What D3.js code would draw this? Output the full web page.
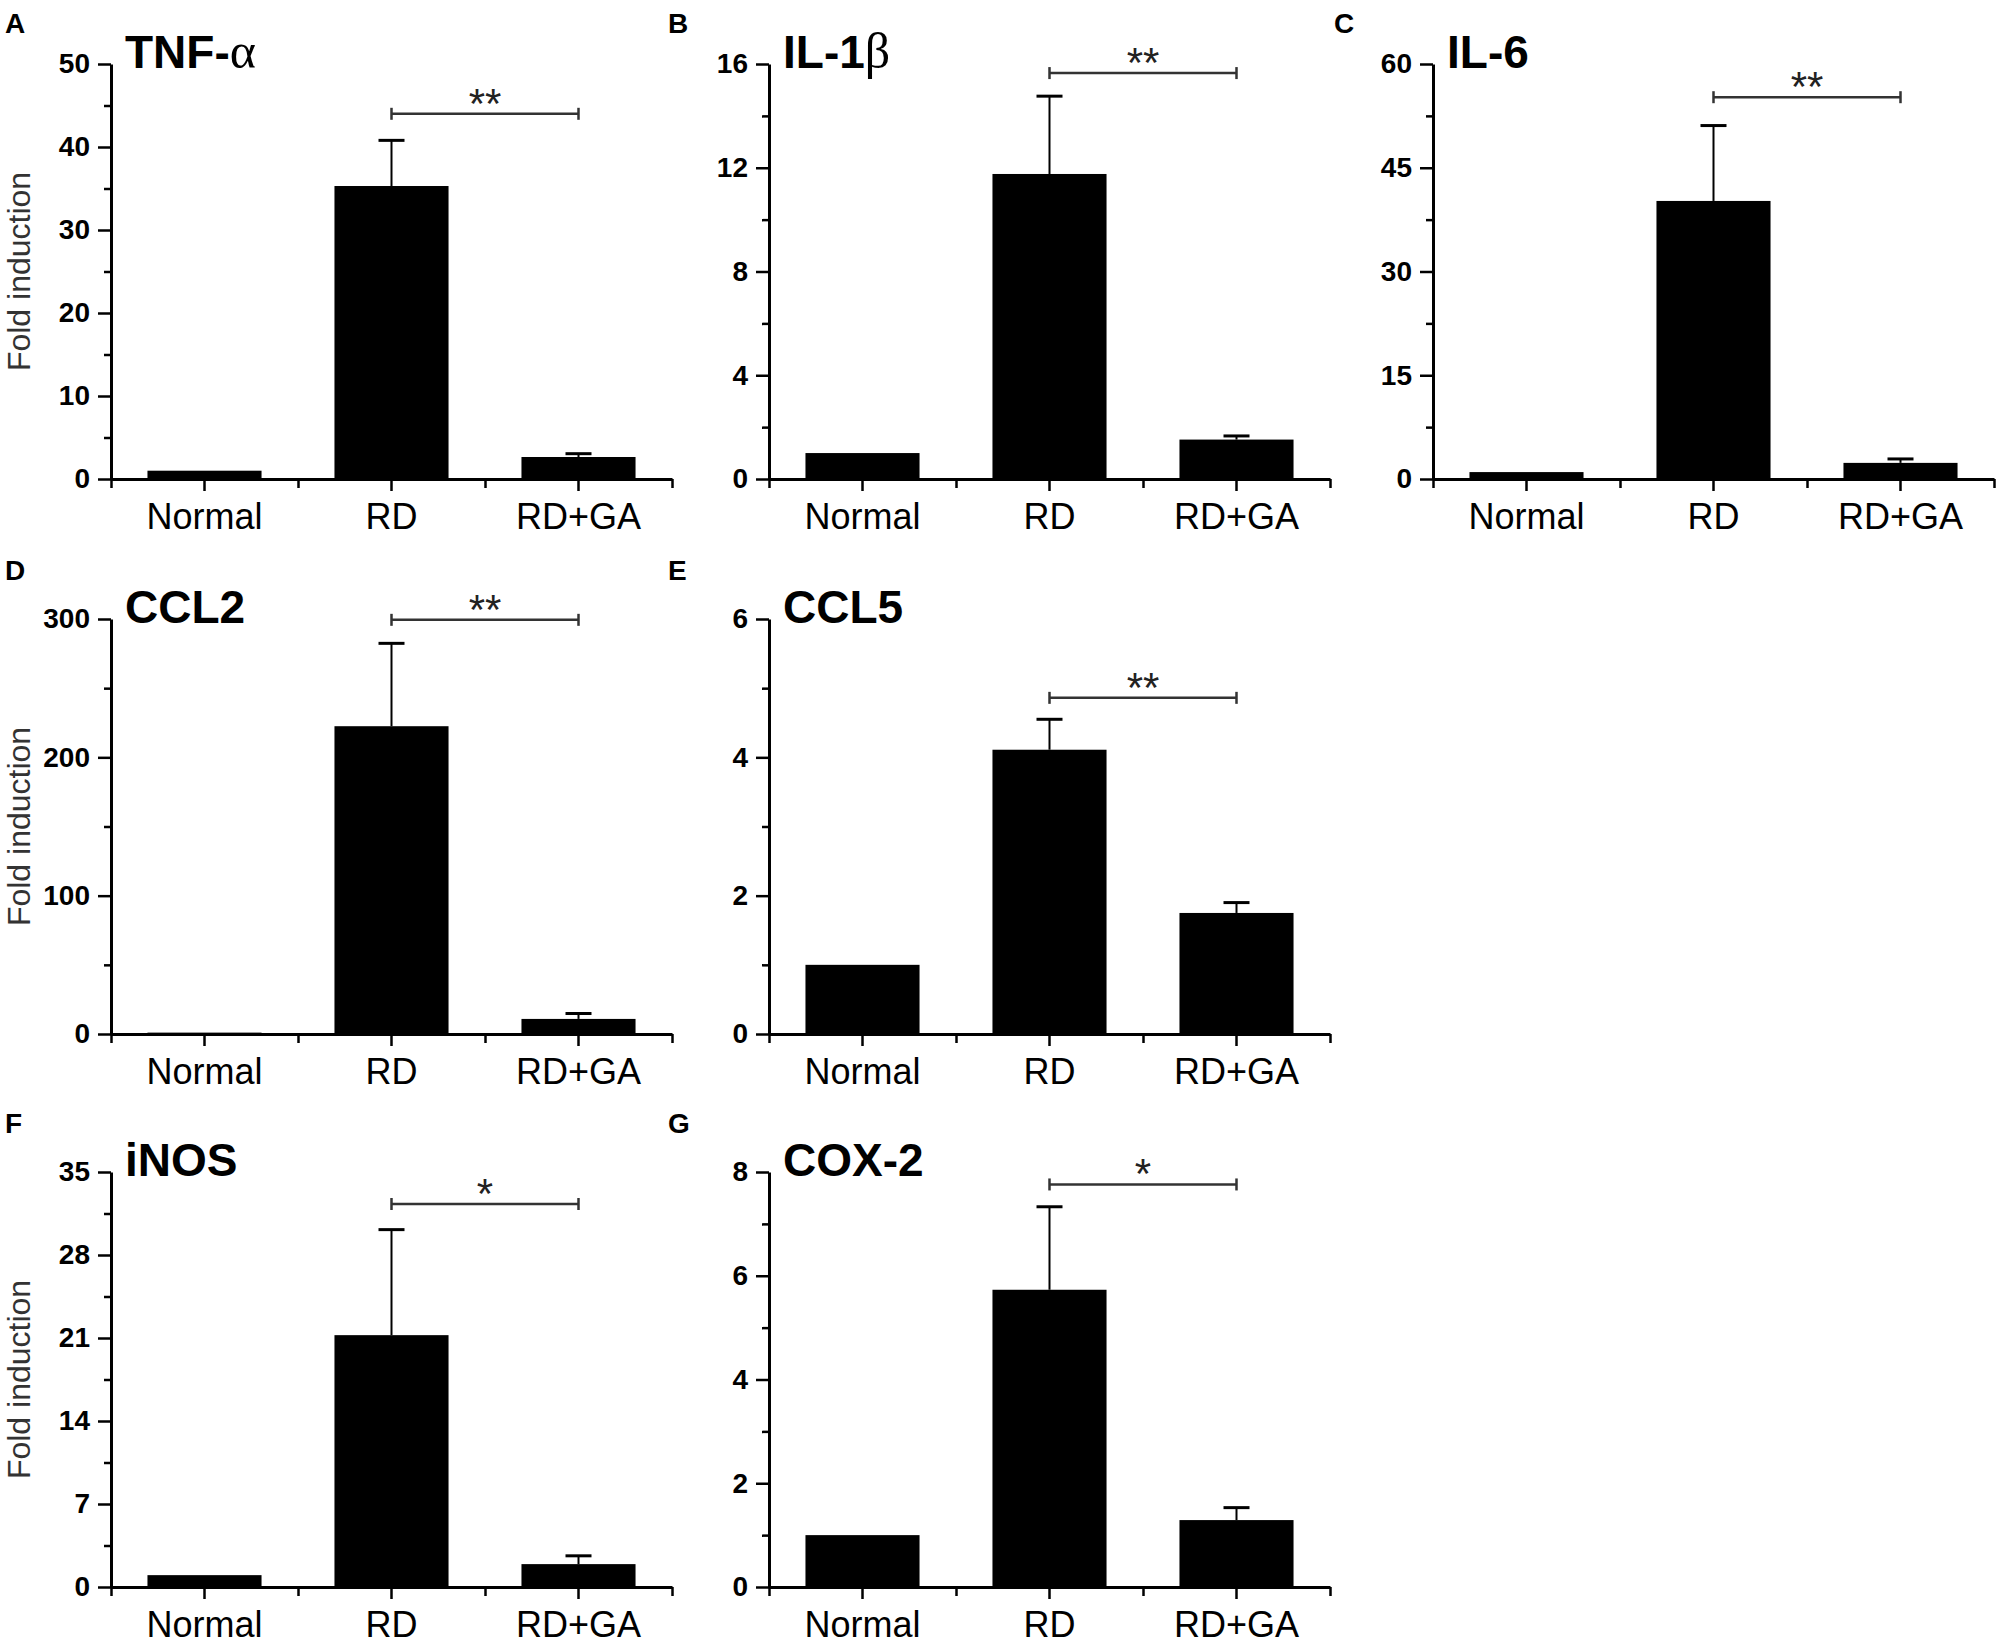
<!DOCTYPE html>
<html>
<head>
<meta charset="utf-8">
<script src="https://cdn.jsdelivr.net/npm/d3@7"></script>
<style>
  body { margin: 0; background: #fff; }
  svg { display: block; font-family: "Liberation Sans", Arial, sans-serif; }
</style>
</head>
<body>
<div id="chart"></div>
<script>
// groups on the x axis, same for every panel
const groups = ["Normal", "RD", "RD+GA"];

// one entry per panel, A..G
const letters = ["A", "B", "C", "D", "E", "F", "G"];
const titles = ["TNF-", "IL-1", "IL-6", "CCL2", "CCL5", "iNOS", "COX-2"];
const titleGreek = ["\u03B1", "\u03B2", "", "", "", "", ""];
const yMax = [50, 16, 60, 300, 6, 35, 8];
const yStep = [10, 4, 15, 100, 2, 7, 2];

// fold induction (mean) and the upper error (SEM) for Normal, RD, RD+GA
const means = [
  [1.0, 35.3, 2.65],
  [1.0, 11.76, 1.52],
  [1.0, 40.2, 2.33],
  [1.0, 222.5, 10.9],
  [1.0, 4.11, 1.75],
  [1.0, 21.24, 1.93],
  [1.0, 5.73, 1.29]
];
const errors = [
  [0, 5.5, 0.4],
  [0, 3.0, 0.14],
  [0, 10.9, 0.57],
  [0, 59.9, 3.9],
  [0, 0.44, 0.15],
  [0, 8.9, 0.7],
  [0, 1.6, 0.24]
];

// significance bracket RD vs RD+GA
const bracketAt = [44, 15.65, 55.2, 299.4, 4.86, 32.3, 7.76];
const stars = ["**", "**", "**", "**", "**", "*", "*"];

const W = 2000, H = 1644;
const svg = d3.select("#chart").append("svg")
    .attr("width", W)
    .attr("height", H);

// panel grid: column x of the y axis, row y of the top tick
const colX = [111, 769, 1433];
const rowY = [64, 619, 1172];
const letterY = [33, 580, 1133];
const letterX = [5, 668, 1334];
const plotW = 561, plotH = 415;

letters.forEach(function(letter, i) {
    const col = i < 3 ? i : (i - 3) % 2;
    const row = i < 3 ? 0 : (i < 5 ? 1 : 2);
    const x0 = colX[col], y0 = rowY[row];

    // panel letter
    svg.append("text")
        .attr("x", letterX[col])
        .attr("y", letterY[row])
        .attr("font-size", 28)
        .attr("font-weight", "bold")
        .text(letter);

    const g = svg.append("g").attr("transform", "translate(" + x0 + "," + y0 + ")");

    const x = d3.scaleBand()
        .domain(groups)
        .range([0, plotW])
        .paddingInner(0.39)
        .paddingOuter(0.195);

    const y = d3.scaleLinear()
        .domain([0, yMax[i]])
        .range([plotH, 0]);

    const majors = d3.range(0, yMax[i] + yStep[i] / 2, yStep[i]);
    const minors = d3.range(yStep[i] / 2, yMax[i], yStep[i]);

    // bars
    const rows = groups.map(function(name, j) {
        return { name: name, mean: means[i][j], err: errors[i][j] };
    });

    g.selectAll("rect.bar")
        .data(rows)
        .enter()
        .append("rect")
            .attr("class", "bar")
            .attr("x", function(d) { return x(d.name); })
            .attr("y", function(d) { return y(d.mean); })
            .attr("width", x.bandwidth())
            .attr("height", function(d) { return plotH - y(d.mean); })
            .attr("fill", "#000");

    // upper error bars
    const withErr = rows.filter(function(d) { return d.err > 0; });
    g.selectAll("line.stem")
        .data(withErr)
        .enter()
        .append("line")
            .attr("x1", function(d) { return x(d.name) + x.bandwidth() / 2; })
            .attr("x2", function(d) { return x(d.name) + x.bandwidth() / 2; })
            .attr("y1", function(d) { return y(d.mean); })
            .attr("y2", function(d) { return y(d.mean + d.err); })
            .attr("stroke", "#000")
            .attr("stroke-width", 2);
    g.selectAll("line.cap")
        .data(withErr)
        .enter()
        .append("line")
            .attr("x1", function(d) { return x(d.name) + x.bandwidth() / 2 - 13; })
            .attr("x2", function(d) { return x(d.name) + x.bandwidth() / 2 + 13; })
            .attr("y1", function(d) { return y(d.mean + d.err); })
            .attr("y2", function(d) { return y(d.mean + d.err); })
            .attr("stroke", "#000")
            .attr("stroke-width", 3);

    // y axis: labelled majors + short minors
    const yAxis = g.append("g")
        .call(d3.axisLeft(y).tickValues(majors).tickFormat(d3.format("~g"))
            .tickSize(13).tickSizeOuter(0).tickPadding(8));
    yAxis.select(".domain").attr("stroke-width", 3);
    yAxis.selectAll(".tick line").attr("stroke-width", 2.5);
    yAxis.selectAll(".tick text")
        .attr("font-family", "'Liberation Sans', Arial, sans-serif")
        .attr("font-size", 28)
        .attr("font-weight", "bold")
        .attr("fill", "#000");
    g.append("g")
        .call(d3.axisLeft(y).tickValues(minors).tickSize(7).tickFormat(""))
        .call(function(a) { a.select(".domain").remove(); })
        .selectAll(".tick line").attr("stroke-width", 2.5);

    // x axis: ticks under each group + shorter ticks at group edges
    const xAxis = g.append("g")
        .attr("transform", "translate(0," + plotH + ")")
        .call(d3.axisBottom(x).tickSize(12).tickSizeOuter(0).tickPadding(12));
    xAxis.select(".domain").attr("stroke-width", 3);
    xAxis.selectAll(".tick line").attr("stroke-width", 2.5);
    xAxis.selectAll(".tick text")
        .attr("font-family", "'Liberation Sans', Arial, sans-serif")
        .attr("font-size", 36)
        .attr("fill", "#000");

    const edge = d3.scaleLinear().domain([0, groups.length]).range([0, plotW]);
    g.append("g")
        .attr("transform", "translate(0," + plotH + ")")
        .call(d3.axisBottom(edge).tickValues(d3.range(0, groups.length + 1)).tickSize(9).tickFormat(""))
        .call(function(a) { a.select(".domain").remove(); })
        .selectAll(".tick line").attr("stroke-width", 2.5);

    // title
    const t = g.append("text")
        .attr("x", 14)
        .attr("y", 4)
        .attr("font-size", 46)
        .attr("font-weight", "bold")
        .text(titles[i]);
    if (titleGreek[i]) {
        t.append("tspan")
            .attr("font-family", "'Liberation Serif', 'DejaVu Serif', serif")
            .attr("font-weight", "normal")
            .attr("font-size", 50)
            .text(titleGreek[i]);
    }

    // significance bracket between RD and RD+GA
    const bx1 = x("RD") + x.bandwidth() / 2;
    const bx2 = x("RD+GA") + x.bandwidth() / 2;
    const by = y(bracketAt[i]);
    const br = g.append("g").attr("stroke", "#333").attr("stroke-width", 2.5);
    br.append("line").attr("x1", bx1).attr("x2", bx2).attr("y1", by).attr("y2", by);
    br.append("line").attr("x1", bx1).attr("x2", bx1).attr("y1", by - 6).attr("y2", by + 6);
    br.append("line").attr("x1", bx2).attr("x2", bx2).attr("y1", by - 6).attr("y2", by + 6);
    g.append("text")
        .attr("x", (bx1 + bx2) / 2)
        .attr("y", by + 4)
        .attr("text-anchor", "middle")
        .attr("font-size", 42)
        .attr("fill", "#222")
        .text(stars[i]);

    // y label only on the left column
    if (col === 0) {
        svg.append("text")
            .attr("transform", "translate(30," + (y0 + plotH / 2) + ") rotate(-90)")
            .attr("text-anchor", "middle")
            .attr("font-size", 32)
            .attr("fill", "#333")
            .text("Fold induction");
    }
});
</script>
</body>
</html>
